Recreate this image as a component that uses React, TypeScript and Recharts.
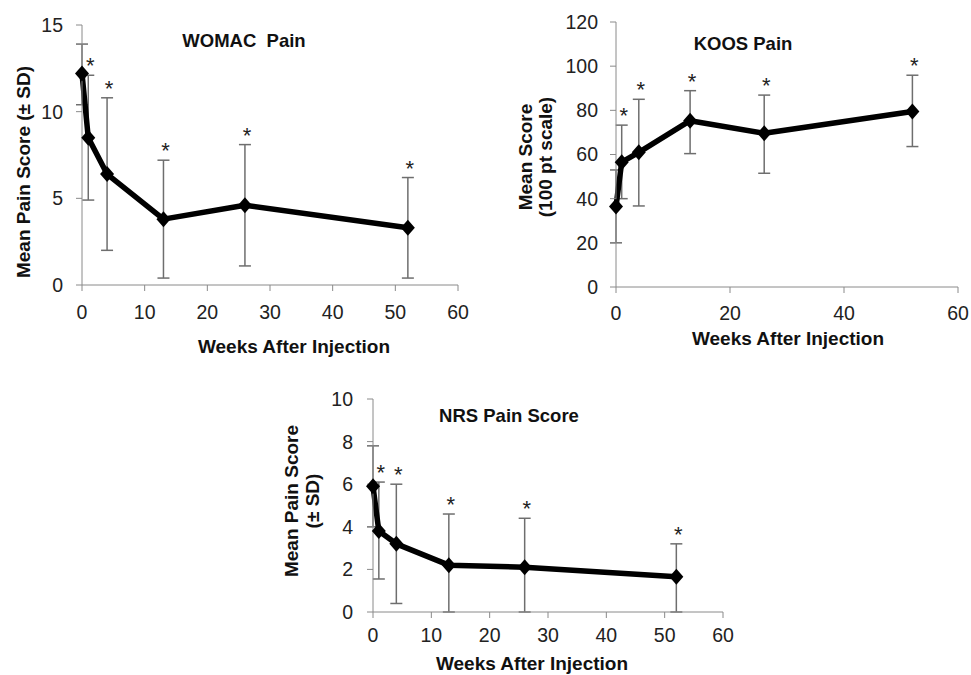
import React from 'react';
import { ComposedChart, Line, Scatter, XAxis, YAxis, ErrorBar, Label } from 'recharts';

// weeks after injection, shared by all three panels
const weeks = [0, 1, 4, 13, 26, 52];
const starred = [false, true, true, true, true, true];

// WOMAC pain (mean, +SD end, -SD end)
const womacMean = [12.2, 8.5, 6.4, 3.8, 4.6, 3.3];
const womacUpper = [13.9, 12.1, 10.8, 7.2, 8.1, 6.2];
const womacLower = [10.4, 4.9, 2.0, 0.4, 1.1, 0.4];

// KOOS pain
const koosMean = [36.5, 56.5, 61, 75.3, 69.6, 79.5];
const koosUpper = [53, 73.3, 85, 88.9, 86.9, 95.9];
const koosLower = [20, 40, 36.7, 60.4, 51.5, 63.6];

// NRS pain score
const nrsMean = [5.9, 3.8, 3.2, 2.2, 2.1, 1.65];
const nrsUpper = [7.8, 6.1, 6.0, 4.6, 4.4, 3.2];
const nrsLower = [4.0, 1.55, 0.4, 0, 0, 0];

const womacTicks = [0, 5, 10, 15];
const koosTicks = [0, 20, 40, 60, 80, 100, 120];
const nrsTicks = [0, 2, 4, 6, 8, 10];
const weekTicks10 = [0, 10, 20, 30, 40, 50, 60];
const weekTicks20 = [0, 20, 40, 60];

const buildRows = (mean: number[], upper: number[], lower: number[]) =>
    weeks.map((w, i) => ({
        week: w,
        mean: mean[i],
        err: [mean[i] - lower[i], upper[i] - mean[i]],
        top: upper[i],
        star: starred[i],
    }));

const FONT = '"Liberation Sans", Arial, sans-serif';
const AXIS = '#8a8a8a';

const Diamond = (p: any) => (
    <path
        key={`d-${p.index}`}
        d={`M${p.cx},${p.cy - 8} L${p.cx + 7},${p.cy} L${p.cx},${p.cy + 8} L${p.cx - 7},${p.cy} Z`}
        fill="#000"
    />
);

const Star = (p: any) =>
    p.payload && p.payload.star ? (
        <text x={p.cx + 2} y={p.cy - 2} textAnchor="middle" fontSize={22} fill="#222" fontFamily={FONT}>
            *
        </text>
    ) : (
        <g />
    );

interface PanelProps {
    data: ReturnType<typeof buildRows>;
    left: number;
    top: number;
    width: number;
    height: number;
    yWidth: number;
    xHeight: number;
    mTop: number;
    mRight: number;
    yDomain: [number, number];
    yTicks: number[];
    xTicks: number[];
    xTickMargin: number;
    yTickMargin: number;
    title: string;
    titlePos: [number, number];
    xTitlePos: [number, number];
    yLines: string[];
    yLineXs: number[];
    yLineY: number;
}

const Panel: React.FC<PanelProps> = (p) => (
    <div style={{ position: 'absolute', left: p.left, top: p.top }}>
        <ComposedChart
            width={p.width}
            height={p.height}
            data={p.data}
            margin={{ top: p.mTop, right: p.mRight, left: 0, bottom: 0 }}
        >
            <XAxis
                dataKey="week"
                type="number"
                domain={[0, 60]}
                ticks={p.xTicks}
                height={p.xHeight}
                stroke={AXIS}
                tickSize={6}
                tickMargin={p.xTickMargin}
                tick={{ fill: '#222', fontSize: 19.5, fontFamily: FONT }}
            >
                <Label
                    content={() => (
                        <text
                            x={p.xTitlePos[0]}
                            y={p.xTitlePos[1]}
                            textAnchor="middle"
                            fontSize={19}
                            fontWeight="bold"
                            fill="#111"
                            fontFamily={FONT}
                        >
                            Weeks After Injection
                        </text>
                    )}
                />
            </XAxis>
            <YAxis
                type="number"
                domain={p.yDomain}
                ticks={p.yTicks}
                width={p.yWidth}
                stroke={AXIS}
                tickSize={6}
                tickMargin={p.yTickMargin}
                tick={{ fill: '#222', fontSize: 19.5, fontFamily: FONT }}
            >
                <Label
                    content={() => (
                        <g>
                            <text
                                x={p.titlePos[0]}
                                y={p.titlePos[1]}
                                textAnchor="middle"
                                fontSize={18.5}
                                fontWeight="bold"
                                fill="#111"
                                fontFamily={FONT}
                                style={{ whiteSpace: 'pre' }}
                            >
                                {p.title}
                            </text>
                            {p.yLines.map((line, i) => (
                                <text
                                    key={line}
                                    x={p.yLineXs[i]}
                                    y={p.yLineY}
                                    transform={`rotate(-90 ${p.yLineXs[i]} ${p.yLineY})`}
                                    textAnchor="middle"
                                    dominantBaseline="central"
                                    fontSize={19}
                                    fontWeight="bold"
                                    fill="#111"
                                    fontFamily={FONT}
                                >
                                    {line}
                                </text>
                            ))}
                        </g>
                    )}
                />
            </YAxis>
            <Line
                type="linear"
                dataKey="mean"
                stroke="#000"
                strokeWidth={5.5}
                strokeLinejoin="round"
                dot={Diamond}
                activeDot={false}
                isAnimationActive={false}
            >
                <ErrorBar dataKey="err" direction="y" width={6} stroke="#6e6e6e" strokeWidth={1.5} />
            </Line>
            <Scatter dataKey="top" shape={Star} isAnimationActive={false} />
        </ComposedChart>
    </div>
);

export default function App() {
    return (
        <div style={{ position: 'absolute', left: 0, top: 0, width: 971, height: 675, background: '#fff', fontFamily: FONT }}>
            <Panel
                data={buildRows(womacMean, womacUpper, womacLower)}
                left={0}
                top={0}
                width={480}
                height={360}
                yWidth={82}
                xHeight={75}
                mTop={25}
                mRight={22}
                yDomain={[0, 15]}
                yTicks={womacTicks}
                xTicks={weekTicks10}
                xTickMargin={14}
                yTickMargin={13}
                title="WOMAC  Pain"
                titlePos={[244, 46.5]}
                xTitlePos={[294, 353]}
                yLines={['Mean Pain Score (± SD)']}
                yLineXs={[23]}
                yLineY={172}
            />
            <Panel
                data={buildRows(koosMean, koosUpper, koosLower)}
                left={490}
                top={0}
                width={481}
                height={362}
                yWidth={126}
                xHeight={75}
                mTop={22}
                mRight={13}
                yDomain={[0, 120]}
                yTicks={koosTicks}
                xTicks={weekTicks20}
                xTickMargin={13}
                yTickMargin={12}
                title="KOOS Pain"
                titlePos={[253, 49.5]}
                xTitlePos={[298, 345]}
                yLines={['Mean Score', '(100 pt scale)']}
                yLineXs={[35, 55]}
                yLineY={157}
            />
            <Panel
                data={buildRows(nrsMean, nrsUpper, nrsLower)}
                left={250}
                top={370}
                width={500}
                height={305}
                yWidth={123}
                xHeight={63}
                mTop={29}
                mRight={27}
                yDomain={[0, 10]}
                yTicks={nrsTicks}
                xTicks={weekTicks10}
                xTickMargin={10}
                yTickMargin={14}
                title="NRS Pain Score"
                titlePos={[259, 51.5]}
                xTitlePos={[282, 300]}
                yLines={['Mean Pain Score', '(± SD)']}
                yLineXs={[41, 62]}
                yLineY={131}
            />
        </div>
    );
}
